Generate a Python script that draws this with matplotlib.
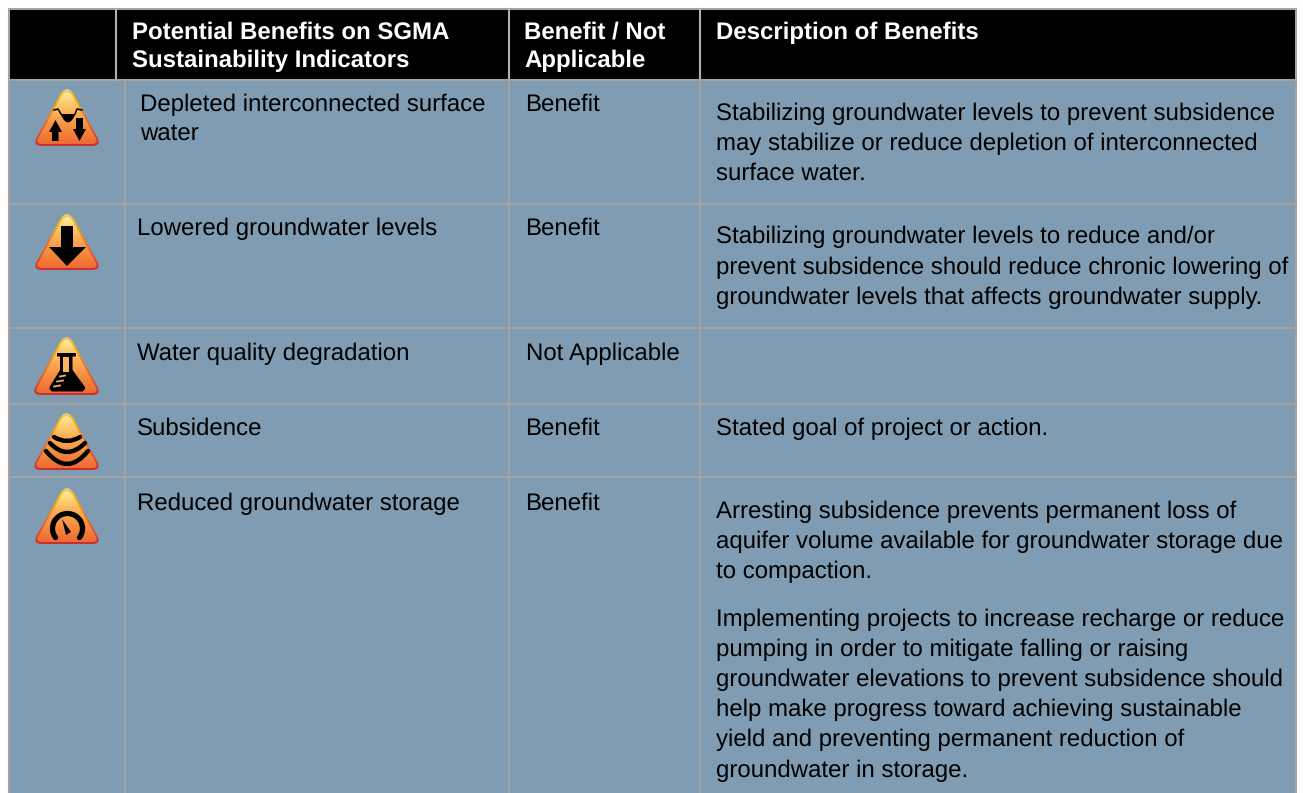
import numpy as np
import matplotlib
matplotlib.use("Agg")
import matplotlib.pyplot as plt
from matplotlib.path import Path
from matplotlib.patches import PathPatch, Rectangle, Polygon
from matplotlib.colors import to_rgb
from matplotlib.transforms import Affine2D

plt.rcParams['font.family'] = ['Liberation Sans', 'DejaVu Sans']
plt.rcParams['text.hinting'] = 'no_hinting'
plt.rcParams['text.hinting_factor'] = 1

# table text
headers = ["Potential Benefits on SGMA\nSustainability Indicators", "Benefit / Not\nApplicable", "Description of Benefits"]
header_x = [132, 524, 716]
header_y = [39, 39, 39]

indicators = ["Depleted interconnected surface\nwater", "Lowered groundwater levels",
              "Water quality degradation", "Subsidence", "Reduced groundwater storage"]
indicator_x = [140, 137, 137, 137, 137]
indicator_y = [111, 235, 360, 435, 510]

status = ["Benefit", "Benefit", "Not Applicable", "Benefit", "Benefit"]
status_x = [525, 525, 526, 525, 525]

desc_lines = [
    [(120, "Stabilizing groundwater levels to prevent subsidence"),
     (150, "may stabilize or reduce depletion of interconnected"),
     (180, "surface water.")],
    [(243, "Stabilizing groundwater levels to reduce and/or"),
     (274, "prevent subsidence should reduce chronic lowering of"),
     (304, "groundwater levels that affects groundwater supply.")],
    [],
    [(435, "Stated goal of project or action.")],
    [(518, "Arresting subsidence prevents permanent loss of"),
     (548, "aquifer volume available for groundwater storage due"),
     (578, "to compaction."),
     (626, "Implementing projects to increase recharge or reduce"),
     (656, "pumping in order to mitigate falling or raising"),
     (686, "groundwater elevations to prevent subsidence should"),
     (716, "help make progress toward achieving sustainable"),
     (746, "yield and preventing permanent reduction of"),
     (777, "groundwater in storage.")],
]

# layout in pixels
left, right, top, header_bottom = 9, 1296, 9, 80
row_lines = [204, 328, 404, 477]
header_cols = [116, 509, 700]
body_cols = [125, 509, 700]
icon_boxes = [(36, 98, 89, 146), (36, 98, 214, 270), (35, 98, 337, 395), (35, 98, 413, 470), (36, 98, 488, 544)]

bg = "#7F9CB2"
grid = "#A3A3A3"
fs = 17.27

fig = plt.figure(figsize=(13.03, 7.93), dpi=100)
ax = fig.add_axes([0, 0, 1, 1])
ax.set_xlim(0, 1303)
ax.set_ylim(793, 0)
ax.axis("off")

ax.add_patch(Rectangle((left, header_bottom), right - left, 793 - header_bottom, fc=bg, ec="none", zorder=1))
ax.add_patch(Rectangle((left, top), right - left, header_bottom - top, fc="black", ec="none", zorder=1))

# grid lines
ax.plot([left, left, right, right], [793, top, top, 793], color=grid, lw=1.5, zorder=2)
ax.plot([left, right], [header_bottom] * 2, color=grid, lw=1.5, zorder=2)
for y in row_lines:
    ax.plot([left, right], [y, y], color=grid, lw=1.5, zorder=2)
for x in header_cols:
    ax.plot([x, x], [top, header_bottom], color="#B0B0B0", lw=1.5, zorder=2)
for x in body_cols:
    ax.plot([x, x], [header_bottom, 793], color=grid, lw=1.5, zorder=2)


def rounded_tri(x0, x1, y0, y1, r_top, r_base):
    # triangle with quadratic corners, the top one is rounder
    cx = (x0 + x1) / 2
    pts = np.array([[cx, y0 - 7], [x1 + 4, y1], [x0 - 4, y1]], dtype=float)
    radii = [r_top, r_base, r_base]
    verts, codes = [], []
    for i in range(3):
        p, a, b = pts[i], pts[i - 1], pts[(i + 1) % 3]
        s = p + (a - p) / np.linalg.norm(a - p) * radii[i]
        e = p + (b - p) / np.linalg.norm(b - p) * radii[i]
        verts += [s, p, e]
        codes += [Path.LINETO, Path.CURVE3, Path.CURVE3]
    codes[0] = Path.MOVETO
    verts.append(verts[0])
    codes.append(Path.CLOSEPOLY)
    return Path(verts, codes)


def gradient(path, y0, y1, stops, cols, x0, x1):
    t = np.linspace(0, 1, 80)
    c = np.array([to_rgb(k) for k in cols])
    img = np.stack([np.interp(t, stops, c[:, i]) for i in range(3)], axis=1)[:, None, :]
    im = ax.imshow(img, extent=(x0, x1, y1, y0), aspect="auto", origin="upper", zorder=3, interpolation="bilinear")
    im.set_clip_path(PathPatch(path, transform=ax.transData))


def draw_icon(box):
    x0, x1, y0, y1 = box
    gradient(rounded_tri(x0, x1, y0, y1, 16, 10), y0, y1, [0, 0.12, 0.4, 0.75, 1],
             ["#E8C98A", "#FFBE00", "#F5861F", "#E0502C", "#C92F30"], x0 - 5, x1 + 5)
    inner = rounded_tri(x0 + 3, x1 - 3, y0 + 4, y1 - 2, 14, 7)
    gradient(inner, y0 + 2, y1 - 2, [0, 0.18, 0.42, 0.7, 1],
             ["#FFF1A8", "#FFD276", "#FBAE55", "#F58C3F", "#EE6A33"], x0, x1)


for box in icon_boxes:
    draw_icon(box)


def black_poly(pts, fc="black", z=4):
    ax.add_patch(Polygon(pts, closed=True, fc=fc, ec="none", zorder=z))


def curve(p0, c, p1, lw=3.2):
    ax.add_patch(PathPatch(Path([p0, c, p1], [Path.MOVETO, Path.CURVE3, Path.CURVE3]), fc="none", ec="black",
                           lw=lw, capstyle="round", zorder=4))


# icon 1: trough with up and down arrows
ax.plot([54, 58, 61], [110, 109, 114], color="black", lw=1.1, zorder=4)
ax.plot([75, 77, 82], [114, 109, 110], color="black", lw=1.1, zorder=4)
ax.add_patch(PathPatch(Path([(60.5, 114), (68, 131), (75.5, 114), (60.5, 114)],
                            [Path.MOVETO, Path.CURVE3, Path.CURVE3, Path.CLOSEPOLY]), fc="black", ec="none", zorder=4))
black_poly([(55.5, 120), (62, 132), (58.5, 132), (58.5, 141), (52, 141), (52, 132), (49, 132)])
black_poly([(79.5, 141), (86, 129), (83, 129), (83, 118), (76, 118), (76, 129), (73, 129)])

# icon 2: down arrow
black_poly([(61, 226), (73, 226), (73, 247), (86, 247), (67, 266), (49, 247), (61, 247)])

# icon 3: flask
black_poly([(57, 353), (76, 353), (76, 356.5), (72.5, 356.5), (72.5, 370), (85, 387), (85, 389), (82.5, 391.5),
            (52, 391.5), (49.5, 389), (49.5, 387), (60, 370), (60, 356.5), (57, 356.5)])
black_poly([(63, 356.5), (68.5, 356.5), (68.5, 372), (63, 372)], fc="#FBB35F", z=5)
for dx0, dx1, dy in [(60, 65, 376), (57, 63, 381), (54, 60, 386)]:
    ax.plot([dx0, dx1], [dy + 0.5, dy - 0.5], color="#F7A868", lw=1.3, zorder=5)

# icon 4: subsidence layers
curve((54, 437), (67, 445), (80, 437))
curve((50, 443), (67, 461), (85, 443))
curve((46, 451), (67, 477), (88, 451))

# icon 5: gauge
arc_path = Path.arc(143, 397)
ax.add_patch(PathPatch(arc_path.transformed(Affine2D().scale(15, 15).translate(67.5, 528.5)),
                       fc="none", ec="black", lw=3.8, capstyle="round", zorder=4))
black_poly([(62, 519), (71, 532), (66, 535)])

# text
for x, y, s in zip(header_x, header_y, headers):
    for j, line in enumerate(s.split("\n")):
        ax.text(x, y + j * 28, line, color="white", fontsize=fs, fontweight="bold", va="baseline", ha="left", zorder=6)

for x, y, s in zip(indicator_x, indicator_y, indicators):
    for j, line in enumerate(s.split("\n")):
        ax.text(x, y + j * 29, line, color="black", fontsize=fs, va="baseline", ha="left", zorder=6)

for x, y, s in zip(status_x, indicator_y, status):
    ax.text(x, y, s, color="black", fontsize=fs, va="baseline", ha="left", zorder=6)

for lines in desc_lines:
    for y, line in lines:
        ax.text(716, y, line, color="black", fontsize=fs, va="baseline", ha="left", zorder=6)

ax.set_xlim(0, 1303)
ax.set_ylim(793, 0)
fig.savefig("out.png", dpi=100, facecolor="white")
